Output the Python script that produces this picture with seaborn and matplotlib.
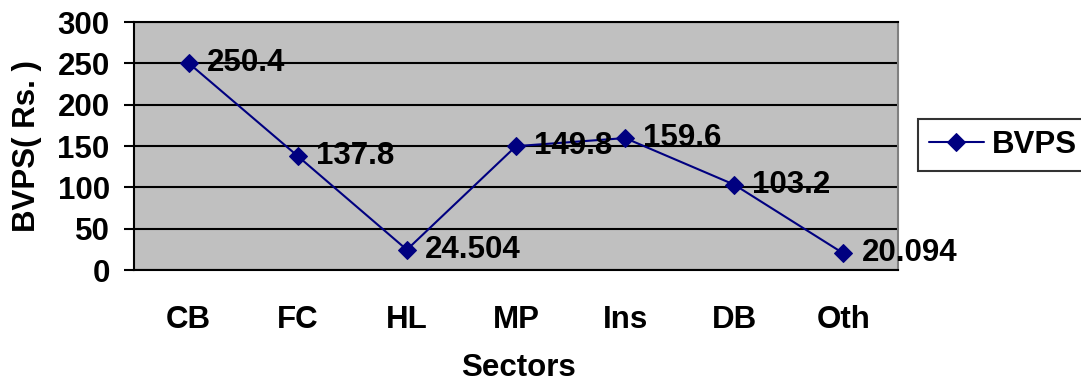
import matplotlib
matplotlib.use("Agg")
import matplotlib.pyplot as plt
import seaborn as sns
import pandas as pd

sectors = ["CB", "FC", "HL", "MP", "Ins", "DB", "Oth"]
bvps = [250.4, 137.8, 24.504, 149.8, 159.6, 103.2, 20.094]
labels = ["250.4", "137.8", "24.504", "149.8", "159.6", "103.2", "20.094"]
yticks = [0, 50, 100, 150, 200, 250, 300]

sns.set_style("white")
plt.rcParams['font.family'] = ['Liberation Sans', 'DejaVu Sans']
plt.rcParams['font.weight'] = 'bold'
plt.rcParams['text.color'] = 'black'
plt.rcParams['axes.labelcolor'] = 'black'
plt.rcParams['xtick.color'] = 'black'
plt.rcParams['ytick.color'] = 'black'
FS = 22.5

df = pd.DataFrame({"Sectors": sectors, "BVPS": bvps})

fig = plt.figure(figsize=(10.81, 3.84), dpi=100)
ax = fig.add_axes([134/1081, 1 - 270/384, (898-134)/1081, (270-22)/384])
ax.set_facecolor("#C0C0C0")

sns.lineplot(data=df, x="Sectors", y="BVPS", ax=ax, color="#000080", lw=1.5,
             marker="D", markersize=9.5, markeredgecolor="#000080", sort=False,
             label="BVPS", zorder=5)

for i, (v, t) in enumerate(zip(bvps, labels)):
    ax.annotate(t, (i, v), xytext=(13, 0), textcoords="offset points",
                ha="left", va="center", fontsize=FS, fontweight="bold",
                color="black", zorder=6, annotation_clip=False)

ax.set_xlim(-0.5, len(sectors) - 0.5)
ax.set_ylim(0, 300)
ax.set_yticks(yticks)
ax.set_yticklabels([str(t) for t in yticks], fontsize=FS, fontweight="bold", color="black")
ax.yaxis.grid(True, color="black", lw=1.5)
ax.set_axisbelow(True)

ax.set_xticks(range(len(sectors)))
ax.set_xticklabels(sectors, fontsize=FS, fontweight="bold", color="black")
ax.set_xticks([i - 0.5 for i in range(len(sectors) + 1)], minor=True)
ax.tick_params(axis="x", which="major", length=0, pad=25)
ax.tick_params(axis="x", which="minor", length=7.5, width=1.5, color="black", direction="out")
ax.tick_params(axis="y", which="major", length=7.5, width=1.5, color="black", direction="out", pad=10, left=True)

for s in ["left", "bottom", "top"]:
    ax.spines[s].set_color("black")
    ax.spines[s].set_linewidth(1.5)
ax.spines["right"].set_color("#808080")
ax.spines["right"].set_linewidth(1.5)

ax.set_xlabel("Sectors", fontsize=FS, fontweight="bold", color="black")
ax.set_ylabel("BVPS( Rs. )", fontsize=FS, fontweight="bold", color="black")
ax.xaxis.set_label_coords((518-134)/764, (270-353)/248)
ax.yaxis.set_label_coords((42-134)/764, 0.5)

ax.get_legend().remove()
leg = fig.legend(handles=ax.get_lines()[:1], labels=["BVPS"], loc="center left",
                 bbox_to_anchor=(918/1081, 1 - 145/384), frameon=True,
                 fancybox=False, edgecolor="black",
                 prop={"weight": "bold", "size": FS}, handlelength=1.75,
                 borderpad=0.35, handletextpad=0.25, borderaxespad=0)
leg.get_frame().set_linewidth(1.5)

fig.savefig("out.png", dpi=100)
